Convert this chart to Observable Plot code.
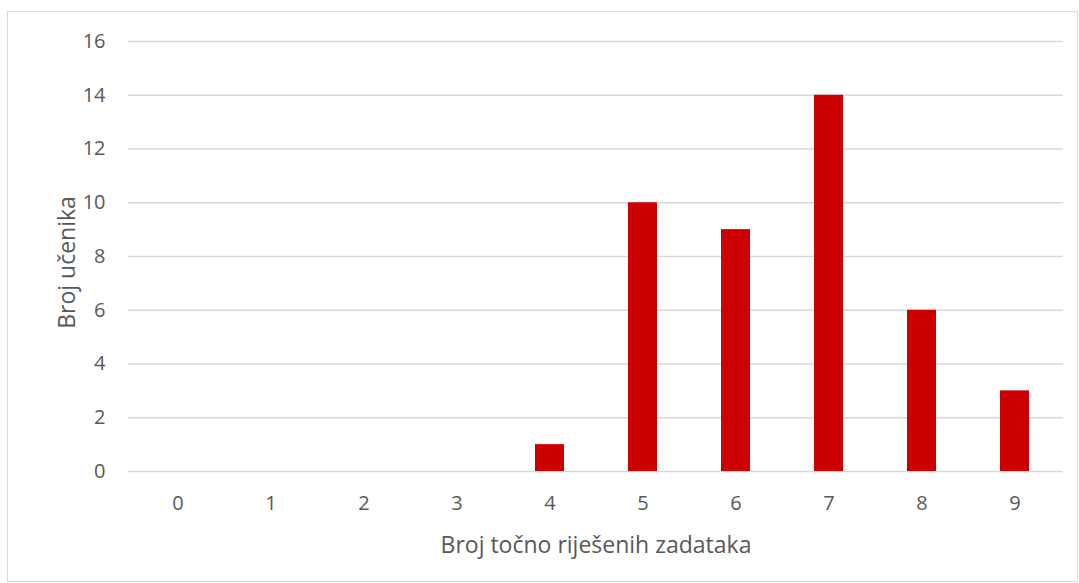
<!DOCTYPE html>
<html>
<head>
<meta charset="utf-8">
<script src="https://cdn.jsdelivr.net/npm/d3@7"></script>
<script src="https://cdn.jsdelivr.net/npm/@observablehq/plot@0.6"></script>
<style>
  html, body { margin: 0; padding: 0; background: #fff; }
  #wrap { position: relative; width: 1079px; height: 583px; }
  #border { position: absolute; left: 7px; top: 11px; width: 1071px; height: 571px; border: 1px solid #D9D9D9; box-sizing: border-box; }
  #chart { position: absolute; left: 0; top: 0; }
</style>
</head>
<body>
<div id="wrap"><div id="border"></div><div id="chart"></div></div>
<script>
const categories = [0, 1, 2, 3, 4, 5, 6, 7, 8, 9];
const counts = [0, 0, 0, 0, 1, 10, 9, 14, 6, 3];
const yTicks = [0, 2, 4, 6, 8, 10, 12, 14, 16];
const xTitle = "Broj točno riješenih zadataka";
const yTitle = "Broj učenika";

const data = categories.map((c, i) => ({cat: String(c), n: counts[i]}));

const chart = Plot.plot({
  width: 1079,
  height: 583,
  marginLeft: 128,
  marginRight: 16,
  marginTop: 41,
  marginBottom: 112,
  style: {fontFamily: "Open Sans, Lato, sans-serif", fontSize: "20px", color: "#595959", background: "transparent"},
  x: {domain: categories.map(String), paddingInner: 0.69, paddingOuter: 0.345, axis: null},
  y: {domain: [0, 16], axis: null},
  marks: [
    Plot.ruleY(yTicks, {stroke: "#D9D9D9", strokeWidth: 1.3, strokeOpacity: 1}),
    Plot.barY(data, {x: "cat", y: "n", fill: "#CC0000"}),
    Plot.text(yTicks, {y: d => d, text: d => String(d), frameAnchor: "left", dx: -23, textAnchor: "end", fontSize: 20, fill: "#595959"}),
    Plot.text(data, {x: "cat", text: "cat", frameAnchor: "bottom", dy: 32, fontSize: 20, lineAnchor: "middle", fill: "#595959"}),
    Plot.text([xTitle], {text: d => d, frameAnchor: "bottom", dy: 74, fontSize: 23, textAnchor: "middle", lineAnchor: "middle", fill: "#595959"}),
    Plot.text([yTitle], {text: d => d, frameAnchor: "left", dx: -61, dy: 6, rotate: -90, fontSize: 23, textAnchor: "middle", lineAnchor: "middle", fill: "#595959"})
  ]
});
document.getElementById("chart").appendChild(chart);
</script>
</body>
</html>
